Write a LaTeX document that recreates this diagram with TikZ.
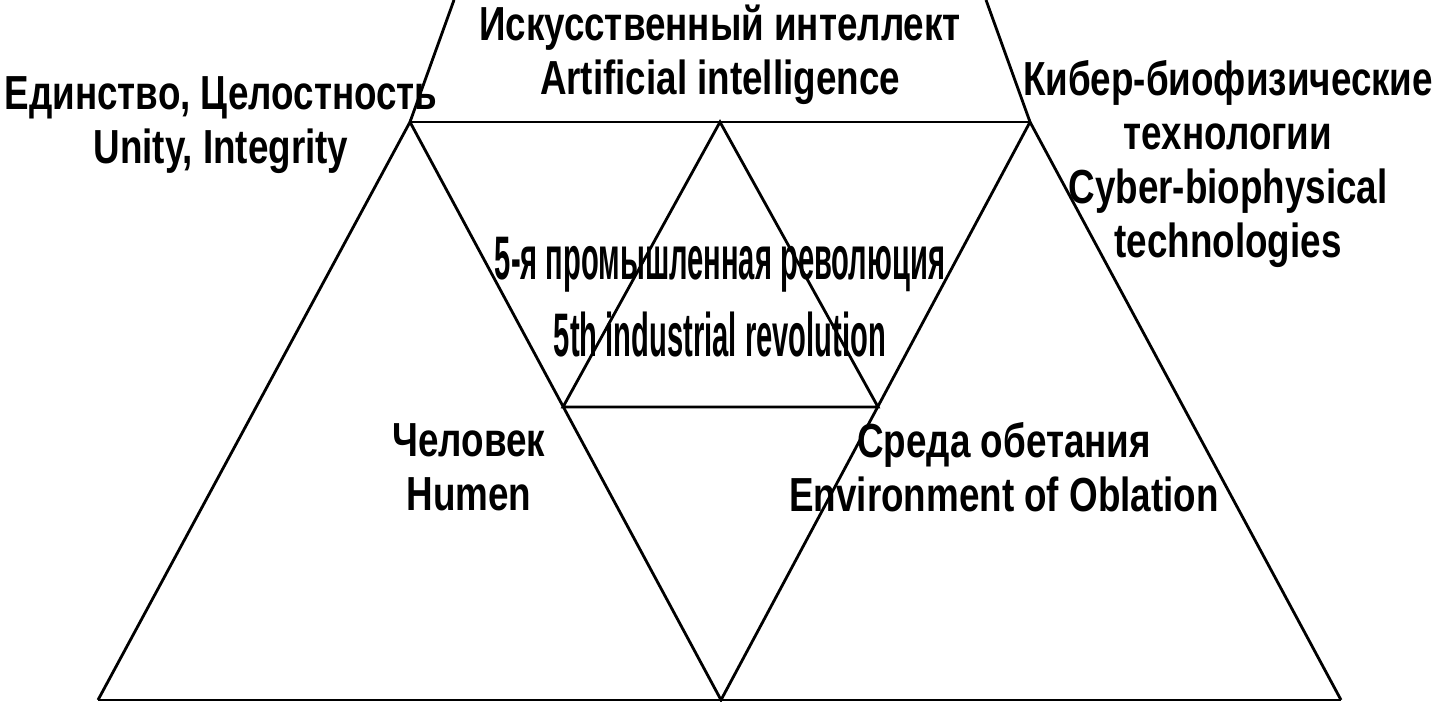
\documentclass[tikz,border=0pt]{standalone}
\usepackage{fontspec}
\setmainfont{Liberation Sans}
\newfontfamily\lblfont{Liberation Sans}[FakeStretch=0.77]
\newfontfamily\midfont{Liberation Sans}[FakeStretch=0.474]
\usetikzlibrary{positioning}
\tikzset{
  edge/.style ={draw=black, line width=0.8pt, line join=miter},
  lbl/.style  ={align=center, inner sep=0pt,
                font=\lblfont\bfseries\fontsize{13.6}{15.4}\selectfont},
  lblC/.style ={lbl, font=\midfont\bfseries\fontsize{17.5}{21.9}\selectfont},
}

\begin{document}
\begin{tikzpicture}[x=0.1mm, y=0.1mm]
  \useasboundingbox (0,0) rectangle (1446,702);
  % corners of the triangles
  \coordinate (bl)  at (98,2);
  \coordinate (bm)  at (721,2);
  \coordinate (br)  at (1341,2);
  \coordinate (tl)  at (410,580);
  \coordinate (tr)  at (1030,580);
  \coordinate (tm)  at (720,580);
  \coordinate (il)  at (563,295);
  \coordinate (ir)  at (878,295);
  \coordinate (ul)  at (454,702);
  \coordinate (ur)  at (986,702);

  \draw[edge] (bl) -- (br);
  \draw[edge] (bl) -- (tl) -- (bm) -- (tr) -- (br);
  \draw[edge] (tl) -- (tr);
  \draw[edge] (il) -- (tm) -- (ir) -- cycle;
  \draw[edge] (tl) -- (ul);
  \draw[edge] (tr) -- (ur);

  \node[lbl]  (ai)    at (720,647)   {Искусственный интеллект\\Artificial intelligence};
  \node[lbl]  (unity) at (221,577)   {Единство, Целостность\\Unity, Integrity};
  \node[lbl]  (cyber) at (1228,538)  {Кибер-биофизические\\технологии\\Cyber-biophysical\\technologies};
  \node[lblC] (rev)   at (720,405)   {5-я промышленная революция\\5th industrial revolution};
  \node[lbl]  (human) at (469,235)   {Человек\\Humen};
  \node[lbl]  (env)   at (1004,235)  {Среда обетания\\Environment of Oblation};
\end{tikzpicture}
\end{document}
